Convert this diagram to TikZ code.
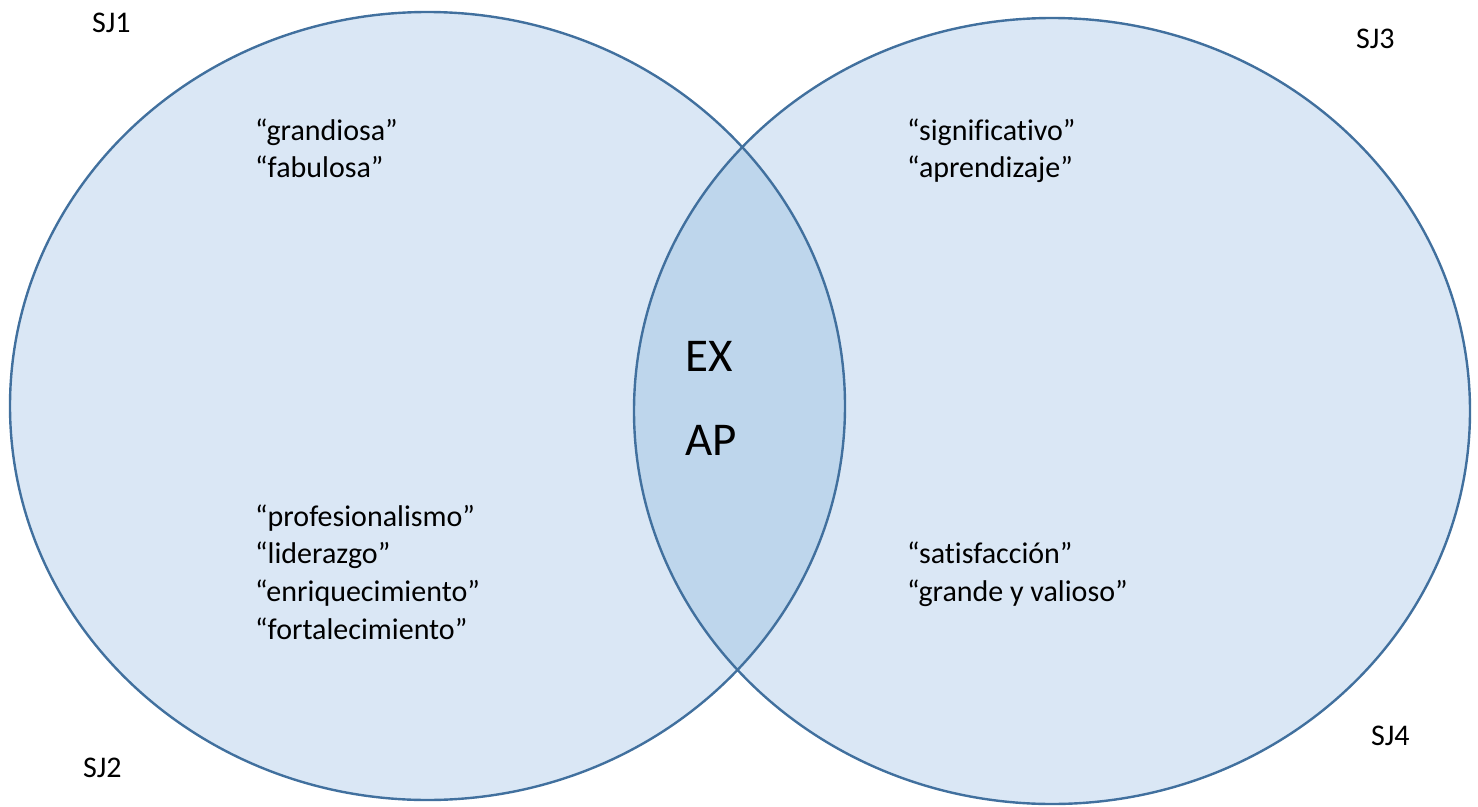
\documentclass[tikz,border=0pt]{standalone}
\usepackage{fontspec}
\setmainfont{Carlito}[Ligatures=NoCommon]
\definecolor{vfill}{HTML}{DAE7F5}
\definecolor{vover}{HTML}{BED6EC}
\definecolor{vline}{HTML}{41709E}
\begin{document}
\begin{tikzpicture}[x=1pt,y=-1pt,
  word/.style={anchor=base west,inner sep=0pt,font=\fontsize{30}{36}\selectfont},
  tag/.style={anchor=base west,inner sep=0pt,font=\fontsize{30}{36}\selectfont},
  big/.style={anchor=base west,inner sep=0pt,font=\fontsize{47}{54}\selectfont},
  outline/.style={draw=vline,line width=2.4pt}]
\useasboundingbox (0,0) rectangle (1478,806);
% fills
\fill[vfill] (427.5,406) ellipse [x radius=417.5,y radius=394];
\fill[vfill] (1052,411) ellipse [x radius=418,y radius=393];
\begin{scope}
  \clip (427.5,406) ellipse [x radius=417.5,y radius=394];
  \fill[vover] (1052,411) ellipse [x radius=418,y radius=393];
\end{scope}
% outlines
\draw[outline] (427.5,406) ellipse [x radius=417.5,y radius=394];
\draw[outline] (1052,411) ellipse [x radius=418,y radius=393];
% labels
\node[tag] (sj1) at (92,32) {SJ1};
\node[tag] (sj3) at (1356,48) {SJ3};
\node[tag] (sj2) at (83,777) {SJ2};
\node[tag] (sj4) at (1371,745) {SJ4};
\node[word] (w1) at (255,140) {“grandiosa”};
\node[word] (w2) at (255,177) {“fabulosa”};
\node[word] (w3) at (907,140) {“significativo”};
\node[word] (w4) at (907,177) {“aprendizaje”};
\node[word] (w5) at (255,526) {“profesionalismo”};
\node[word] (w6) at (255,563) {“liderazgo”};
\node[word] (w7) at (255,601) {“enriquecimiento”};
\node[word] (w8) at (255,639) {“fortalecimiento”};
\node[word] (w9) at (907,563) {“satisfacción”};
\node[word] (w10) at (907,601) {“grande y valioso”};
\node[big] (ex) at (685,371) {EX};
\node[big] (ap) at (685,455) {AP};
\end{tikzpicture}
\end{document}
